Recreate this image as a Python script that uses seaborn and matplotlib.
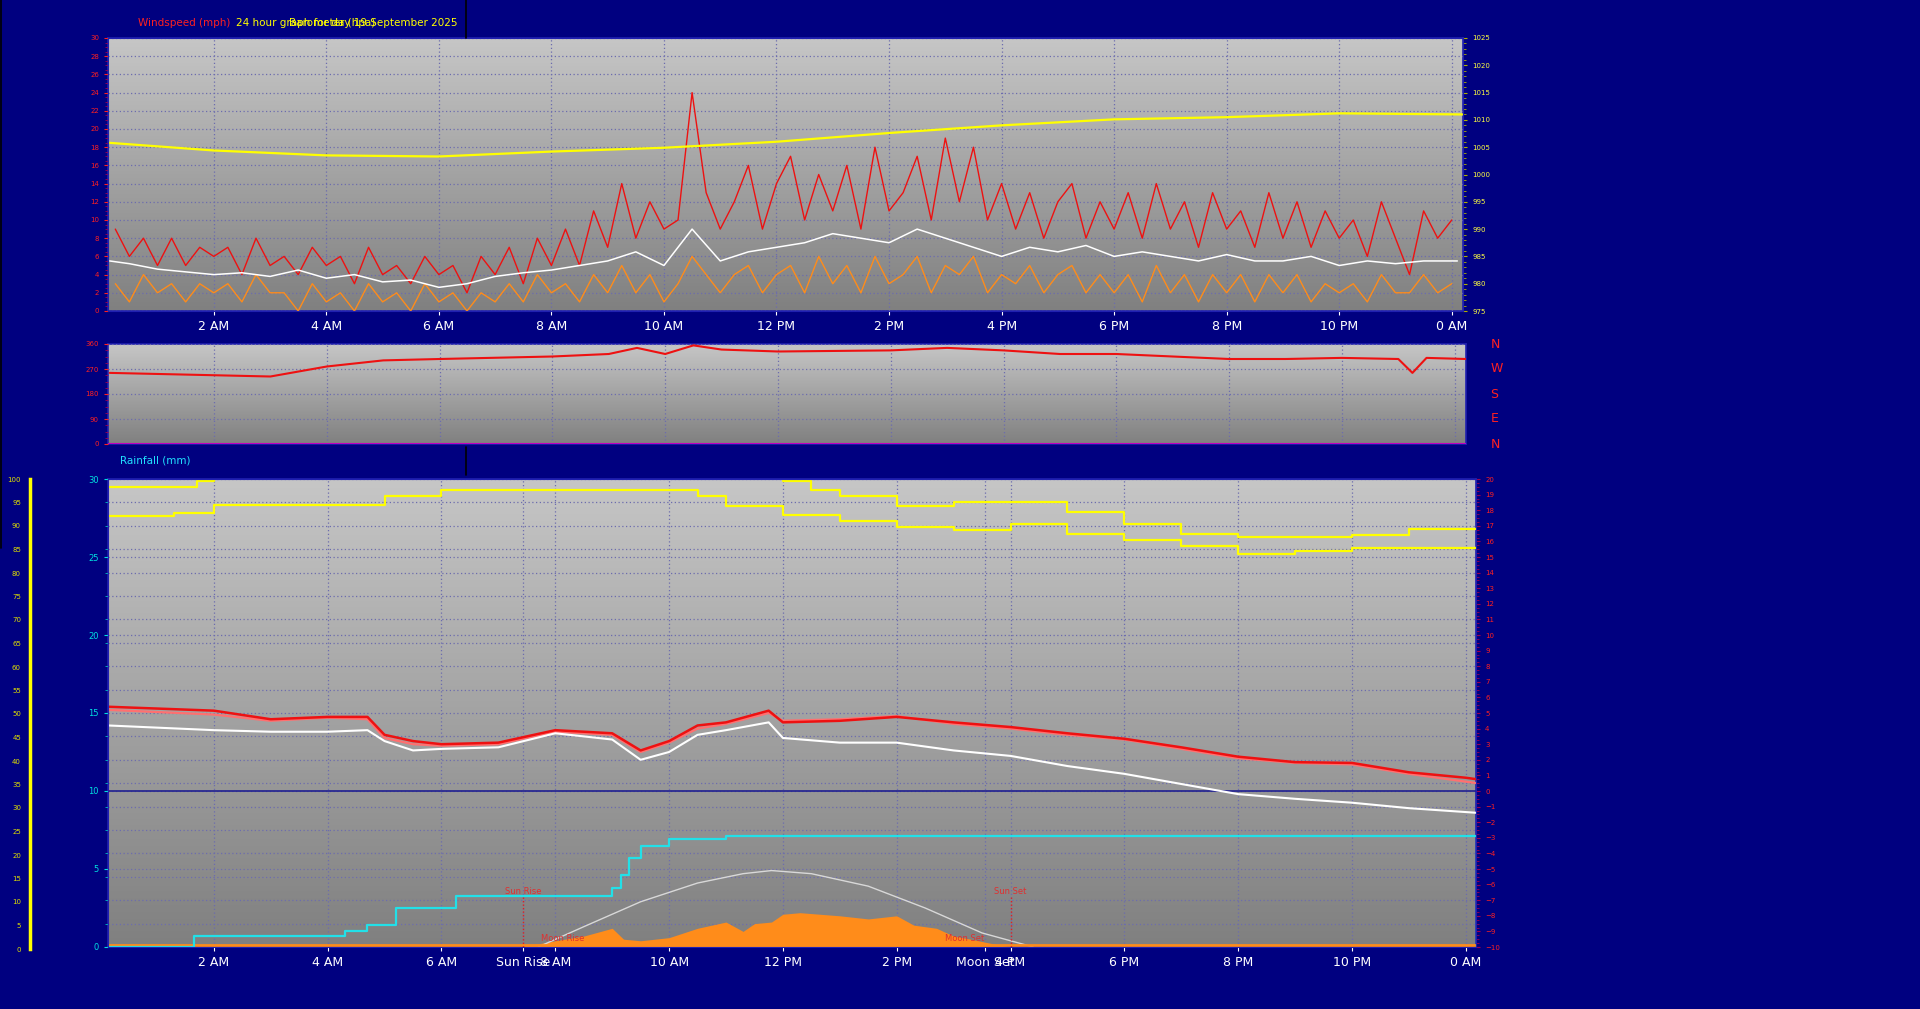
import numpy as np
import matplotlib
matplotlib.use("Agg")
import matplotlib.pyplot as plt
import seaborn as sns
from matplotlib.colors import LinearSegmentedColormap
from matplotlib.ticker import MultipleLocator

sns.set_style("dark")
plt.rcParams['font.family'] = ['DejaVu Sans']

# ---------------- data ----------------
hour_ticks = [2, 4, 6, 8, 10, 12, 14, 16, 18, 20, 22, 24]
hour_labels = ['2 AM', '4 AM', '6 AM', '8 AM', '10 AM', '12 PM', '2 PM', '4 PM',
               '6 PM', '8 PM', '10 PM', '0 AM']

q_times = [0.25 * i for i in range(1, 97)]
gust = [9, 6, 8, 5, 8, 5, 7, 6, 7, 4, 8, 5, 6, 4, 7, 5, 6, 3, 7, 4, 5, 3, 6, 4,
        5, 2, 6, 4, 7, 3, 8, 5, 9, 5, 11, 7, 14, 8, 12, 9, 10, 24, 13, 9, 12, 16, 9, 14,
        17, 10, 15, 11, 16, 9, 18, 11, 13, 17, 10, 19, 12, 18, 10, 14, 9, 13, 8, 12,
        14, 8, 12, 9, 13, 8, 14, 9, 12, 7, 13, 9, 11, 7, 13, 8, 12, 7, 11, 8, 10, 6, 12, 8,
        4, 11, 8, 10]
speed = [3, 1, 4, 2, 3, 1, 3, 2, 3, 1, 4, 2, 2, 0, 3, 1, 2, 0, 3, 1, 2, 0, 3, 1,
         2, 0, 2, 1, 3, 1, 4, 2, 3, 1, 4, 2, 5, 2, 4, 1, 3, 6, 4, 2, 4, 5, 2, 4,
         5, 2, 6, 3, 5, 2, 6, 3, 4, 6, 2, 5, 4, 6, 2, 4, 3, 5, 2, 4, 5, 2, 4, 2,
         4, 1, 5, 2, 4, 1, 4, 2, 4, 1, 4, 2, 4, 1, 3, 2, 3, 1, 4, 2, 2, 4, 2, 3]
avg_times = [0.15] + [0.5 * i for i in range(1, 48)] + [24.1]
avg_wind = [5.5, 5.2, 4.6, 4.3, 4.0, 4.2, 3.8, 4.5, 3.6, 4.0, 3.2, 3.4, 2.6, 3.0, 3.8, 4.2,
            4.5, 5.0, 5.5, 6.5, 5.0, 9.0, 5.5, 6.5, 7.0, 7.5, 8.5, 8.0, 7.5, 9.0, 8.0, 7.0,
            6.0, 7.0, 6.5, 7.2, 6.0, 6.5, 6.0, 5.5, 6.2, 5.5, 5.5, 6.0, 5.0, 5.5, 5.2, 5.5, 5.5]
press_times = [0.15, 2, 4, 6, 8, 10, 12, 14, 16, 18, 20, 22, 24.2]
pressure = [1005.8, 1004.4, 1003.5, 1003.3, 1004.2, 1004.9, 1006.0, 1007.6, 1009.0,
            1010.1, 1010.5, 1011.2, 1011.0]

dir_times = [0.15, 3, 4, 5, 6, 8, 9, 9.5, 10, 10.5, 11, 12, 14, 15, 16, 17, 18, 19, 20,
             21, 22, 23, 23.25, 23.5, 24.2]
direction = [256, 243, 279, 301, 306, 315, 324, 346, 324, 355, 340, 333, 337, 346, 337,
             324, 324, 315, 306, 306, 310, 306, 256, 310, 306]

hum_a_times = [0.15, 1.6, 1.7, 2.0, 11.9, 12.0, 12.5, 13, 14, 15, 16, 17, 18, 19, 20, 21,
               22, 23, 24.2]
hum_a = [19.5, 19.5, 19.9, 20.5, 20.5, 19.9, 19.3, 18.9, 18.3, 18.5, 18.5, 17.9, 17.1,
         16.5, 16.3, 16.3, 16.4, 16.8, 16.9]
hum_b_times = [0.15, 1.3, 2, 5, 6, 10, 10.5, 11, 12, 13, 14, 15, 16, 17, 18, 19, 20, 21,
               22, 24.2]
hum_b = [17.6, 17.8, 18.35, 18.9, 19.3, 19.3, 18.9, 18.3, 17.7, 17.3, 16.9, 16.7, 17.1,
         16.5, 16.1, 15.7, 15.2, 15.4, 15.6, 15.7]

temp_times = [0.15, 2, 3, 4, 4.7, 5, 5.5, 6, 7, 8, 9, 9.5, 10, 10.5, 11, 11.75, 12, 13,
              14, 15, 16, 17, 18, 19, 20, 21, 22, 23, 24, 24.2]
temp = [5.4, 5.15, 4.6, 4.75, 4.75, 3.6, 3.2, 3.0, 3.1, 3.9, 3.7, 2.6, 3.2, 4.2, 4.4, 5.15,
        4.4, 4.5, 4.75, 4.4, 4.1, 3.7, 3.35, 2.8, 2.2, 1.85, 1.8, 1.2, 0.85, 0.75]
feels = [5.2, 4.9, 4.5, 4.7, 4.6, 3.4, 3.0, 2.9, 3.0, 3.8, 3.6, 2.5, 3.1, 4.0, 4.3, 5.0,
         4.5, 4.6, 4.8, 4.3, 4.0, 3.6, 3.3, 2.7, 2.1, 1.8, 1.7, 1.1, 0.6, 0.5]
dew = [4.2, 3.9, 3.8, 3.8, 3.9, 3.2, 2.6, 2.7, 2.8, 3.7, 3.3, 2.0, 2.5, 3.6, 3.9, 4.4,
       3.4, 3.1, 3.1, 2.6, 2.25, 1.6, 1.1, 0.45, -0.2, -0.5, -0.75, -1.1, -1.35, -1.4]

rain_times = [0.15, 1.65, 4.3, 4.7, 5.2, 6.25, 9.0, 9.15, 9.3, 9.5, 10.0, 11.0, 23.95, 24.2]
rain = [0.0, 0.7, 1.0, 1.4, 2.5, 3.3, 3.8, 4.6, 5.7, 6.5, 6.9, 7.1, 7.1, 0.0]

solar_times = [0.15, 7.3, 7.7, 8.0, 8.5, 9.0, 9.2, 9.5, 10.0, 10.5, 11.0, 11.3, 11.5, 11.8,
               12.0, 12.3, 13.0, 13.5, 14.0, 14.3, 14.7, 15.0, 15.3, 15.7, 16.0, 24.2]
solar = [0.0, 0.0, 0.2, 0.4, 0.7, 1.2, 0.5, 0.4, 0.6, 1.2, 1.6, 1.0, 1.5, 1.6, 2.1, 2.2,
         2.0, 1.8, 2.0, 1.4, 1.2, 0.7, 0.5, 0.2, 0.0, 0.0]
sun_times = [7.7, 8.5, 9.5, 10.5, 11.3, 11.8, 12.5, 13.5, 14.5, 15.5, 16.4]
sun_curve = [0.0, 1.3, 2.9, 4.1, 4.7, 4.9, 4.7, 3.9, 2.5, 0.9, 0.0]

# ---------------- layout ----------------
W, H = 1920, 1009
NAVY = '#000080'
GRID = '#6c6cae'


def rect(l, t, r, b):
    return [l / W, 1 - b / H, (r - l) / W, (b - t) / H]


fig = plt.figure(figsize=(W / 100, H / 100), dpi=100, facecolor=NAVY)
cmap = LinearSegmentedColormap.from_list('g', ['#c6c6c6', '#808080'])


def style(ax, lo, hi):
    ax.set_facecolor('#a0a0a0')
    ax.imshow(np.linspace(0, 1, 200).reshape(-1, 1), cmap=cmap, aspect='auto',
              extent=[0, 1, 0, 1], transform=ax.transAxes, zorder=0)
    ax.set_xlim(lo, hi)
    for s in ax.spines.values():
        s.set_color('#2020b0')
        s.set_linewidth(1.2)
    ax.set_xticks(hour_ticks)
    ax.grid(True, axis='both', color=GRID, linestyle=(0, (1, 2)), linewidth=0.9)
    ax.set_axisbelow(False)


# top chart
ax1 = fig.add_axes(rect(108, 38, 1463, 311))
style(ax1, 0.12, 24.2)
ax1.set_ylim(0, 30)
ax1.yaxis.set_major_locator(MultipleLocator(2))
ax1.yaxis.set_minor_locator(MultipleLocator(0.5))
ax1.tick_params(axis='y', colors='#ff2020', labelsize=5, length=3, left=True, labelcolor='#ff2020')
ax1.tick_params(axis='y', which='minor', colors='#a00050', length=2, left=True)
ax1.tick_params(axis='x', colors='white', labelsize=9, length=3, bottom=True)
ax1.set_xticklabels(hour_labels, color='white')
sns.lineplot(x=q_times, y=speed, ax=ax1, color='#ff8c1a', linewidth=1.0, zorder=3)
sns.lineplot(x=q_times, y=gust, ax=ax1, color='#ee1111', linewidth=1.0, zorder=4)
sns.lineplot(x=avg_times, y=avg_wind, ax=ax1, color='white', linewidth=1.1, zorder=5)
ax1r = ax1.twinx()
ax1r.set_ylim(975, 1025)
ax1r.yaxis.set_major_locator(MultipleLocator(5))
ax1r.yaxis.set_minor_locator(MultipleLocator(1))
ax1r.tick_params(axis='y', colors='#b0b000', labelsize=5, length=3, labelcolor='#ffff40')
ax1r.tick_params(axis='y', which='minor', colors='#b0b000', length=2)
ax1r.grid(False)
for s in ax1r.spines.values():
    s.set_color('#2020b0')
sns.lineplot(x=press_times, y=pressure, ax=ax1r, color='#ffff00', linewidth=1.6)

# direction panel
ax2 = fig.add_axes(rect(108, 344, 1466, 444))
style(ax2, 0.12, 24.2)
ax2.set_ylim(0, 360)
ax2.set_yticks([0, 90, 180, 270, 360])
ax2.yaxis.set_minor_locator(MultipleLocator(22.5))
ax2.tick_params(axis='y', colors='#ff2020', labelsize=5, length=3, left=True)
ax2.tick_params(axis='y', which='minor', colors='#a00050', length=2, left=True)
ax2.set_xticklabels([])
ax2.tick_params(axis='x', length=0)
sns.lineplot(x=dir_times, y=direction, ax=ax2, color='#ee1111', linewidth=1.5, zorder=4)
ax2.axhline(1.5, color='#c000c0', linewidth=1.5, zorder=4)
for lab, v in zip(['N', 'W', 'S', 'E', 'N'], [360, 270, 180, 90, 0]):
    ax2.text(1.018, v, lab, color='#ff2020', fontsize=9, va='center',
             transform=ax2.get_yaxis_transform())

# bottom chart
ax3 = fig.add_axes(rect(108, 479, 1476, 947))
style(ax3, 0.14, 24.18)
ax3.set_ylim(0, 30)
ax3.set_yticks(np.arange(0, 31, 5))
ax3.yaxis.set_minor_locator(MultipleLocator(1.5))
ax3.tick_params(axis='y', colors='#00e0e0', labelsize=6, length=3, left=True)
ax3.tick_params(axis='y', which='minor', colors='#00c0c0', length=2, left=True)
ax3.grid(True, axis='y', which='minor', color=GRID, linestyle=(0, (1, 2)), linewidth=0.9)
ax3.tick_params(axis='x', colors='white', labelsize=9, length=3, bottom=True)
ax3.set_xticks(hour_ticks + [7.44, 15.55])
ax3.set_xticklabels(hour_labels + ['Sun Rise', 'Moon Set'], color='white')

ax3.fill_between(solar_times, 0, solar, color='#ff8c1a', zorder=3, linewidth=0)
sns.lineplot(x=sun_times, y=sun_curve, ax=ax3, color='#d8d8d8', linewidth=1.0, zorder=3)
sns.lineplot(x=rain_times, y=rain, ax=ax3, color='#22e0e8', linewidth=1.6,
             drawstyle='steps-post', zorder=5)
ax3.axhline(0.1, color='#ff8c1a', linewidth=2, zorder=4)
ax3.axhline(10, color='#202090', linewidth=1.2, zorder=3)
sns.lineplot(x=hum_a_times, y=[v + 10 for v in hum_a], ax=ax3, color='#ffff00',
             linewidth=1.6, drawstyle='steps-post', zorder=5)
sns.lineplot(x=hum_b_times, y=[v + 10 for v in hum_b], ax=ax3, color='#ffff00',
             linewidth=1.6, drawstyle='steps-post', zorder=5)
sns.lineplot(x=temp_times, y=[v + 10 for v in feels], ax=ax3, color='#ff7070',
             linewidth=1.6, zorder=5)
sns.lineplot(x=temp_times, y=[v + 10 for v in temp], ax=ax3, color='#ee1111',
             linewidth=1.8, zorder=6)
sns.lineplot(x=temp_times, y=[v + 10 for v in dew], ax=ax3, color='white',
             linewidth=1.5, zorder=6)
for x, lab in [(7.44, 'Sun Rise'), (16.0, 'Sun Set')]:
    ax3.plot([x, x], [0, 3.2], color='#e02020', linestyle=(0, (1, 1.5)), linewidth=1, zorder=4)
    ax3.text(x, 3.3, lab, color='#e03030', fontsize=6, ha='center', va='bottom', zorder=7)
ax3.text(7.75, 0.4, 'Moon Rise', color='#e03030', fontsize=6, ha='left', zorder=7)
ax3.text(15.2, 0.4, 'Moon Set', color='#e03030', fontsize=6, ha='center', zorder=7)

ax3r = ax3.twinx()
ax3r.set_ylim(-10, 20)
ax3r.yaxis.set_major_locator(MultipleLocator(1))
ax3r.yaxis.set_minor_locator(MultipleLocator(0.25))
ax3r.tick_params(axis='y', colors='#a00050', labelsize=5, length=3, labelcolor='#ff2020')
ax3r.tick_params(axis='y', which='minor', colors='#a00050', length=2)
ax3r.grid(False)
for s in ax3r.spines.values():
    s.set_color('#2020b0')

# far-left humidity axis
ax4 = fig.add_axes(rect(30, 479, 31, 949))
ax4.set_facecolor(NAVY)
ax4.set_ylim(0, 100)
ax4.set_xticks([])
for k, s in ax4.spines.items():
    s.set_visible(k == 'left')
ax4.spines['left'].set_color('#ffff00')
ax4.spines['left'].set_linewidth(2.5)
ax4.yaxis.set_major_locator(MultipleLocator(5))
ax4.yaxis.set_minor_locator(MultipleLocator(1.25))
ax4.tick_params(axis='y', colors='#909000', labelsize=5, length=3, labelcolor='#e0e000')
ax4.tick_params(axis='y', which='minor', colors='#909000', length=2)

# titles & frame
fig.text(138 / W, 1 - 23 / H, 'Windspeed (mph)', color='#ff2020', fontsize=7.5, va='center')
fig.text(236 / W, 1 - 23 / H, '24 hour graph for day 19 September 2025', color='#ffff00',
         fontsize=7.5, va='center')
fig.text(289 / W, 1 - 23 / H, 'Barometer (hpa)', color='#ffff00', fontsize=7.5, va='center')
fig.text(120 / W, 1 - 461 / H, 'Rainfall (mm)', color='#20e0ff', fontsize=7.5, va='center')
fig.add_artist(plt.Line2D([466 / W, 466 / W], [1, 1 - 38 / H], color='black', linewidth=1.2))
fig.add_artist(plt.Line2D([1 / W, 1 / W], [1, 1 - 548 / H], color='black', linewidth=1.2))
fig.add_artist(plt.Line2D([466 / W, 466 / W], [1 - 447 / H, 1 - 475 / H], color='black', linewidth=1.2))

fig.savefig('out.png', dpi=100, facecolor=NAVY)
